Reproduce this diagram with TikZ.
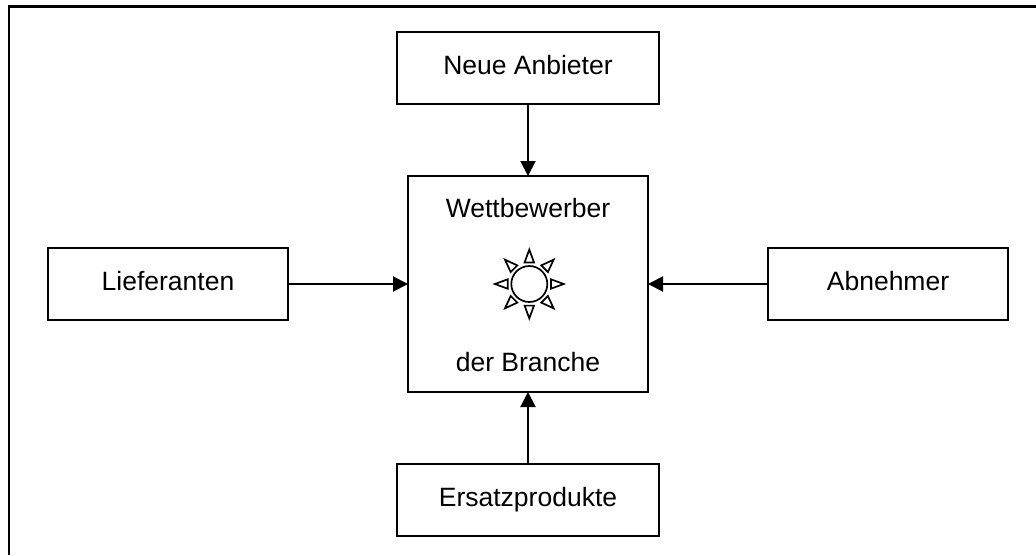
\documentclass[tikz,border=0pt]{standalone}
\usepackage{fontspec}
\setmainfont{Liberation Sans}
\usetikzlibrary{arrows.meta}
\tikzset{
  x=1pt,y=-1pt,
  boxnode/.style={draw=black,line width=2pt,fill=white,inner sep=0pt,minimum height=72pt,text height=12pt,text depth=0pt,font=\fontsize{26.5}{30}\selectfont},
  widebox/.style={boxnode,minimum width=262pt},
  sidebox/.style={boxnode,minimum width=240pt},
  centerbox/.style={draw=black,line width=2pt,fill=white,minimum width=240pt,minimum height=216pt},
  caption/.style={inner sep=0pt,anchor=base,font=\fontsize{26.5}{30}\selectfont},
  conn/.style={draw=black,line width=2pt,-{Triangle[length=15pt,width=15pt]},shorten >=-1pt},
  frameline/.style={draw=black,line width=2.4pt},
  ray/.style={draw=black,line width=1.7pt,fill=white,miter limit=10},
  suncore/.style={draw=black,line width=1.7pt,fill=white,circle,minimum size=36pt,inner sep=0pt}
}
\begin{document}
\begin{tikzpicture}
\useasboundingbox (0,0) rectangle (1036,555);
\fill[white] (0,0) rectangle (1036,555);
\coordinate (fa) at (9,555);
\coordinate (fb) at (9,6.5);
\coordinate (fc) at (1036,6.5);
\draw[frameline] (fa) -- (fb) -- (fc);
\node[widebox] (neue) at (528,68) {Neue Anbieter};
\node[sidebox] (lief) at (168,284) {Lieferanten};
\node[sidebox] (abn) at (888,284) {Abnehmer};
\node[widebox] (ers) at (528,500) {Ersatzprodukte};
\node[centerbox] (wett) at (528,284) {};
\node[caption] (wt) at (528,217) {Wettbewerber};
\node[caption] (br) at (528,371) {der Branche};
\node[suncore] (sun) at (529.3,284) {};
\foreach \a in {0,45,...,315}{
  \draw[ray,shift={(sun.center)},rotate=\a] (21.6,-4.7) -- (34.4,0) -- (21.6,4.7) -- cycle;
}
\draw[conn] (neue) -- (wett);
\draw[conn] (ers) -- (wett);
\draw[conn] (lief) -- (wett);
\draw[conn] (abn) -- (wett);
\end{tikzpicture}
\end{document}
